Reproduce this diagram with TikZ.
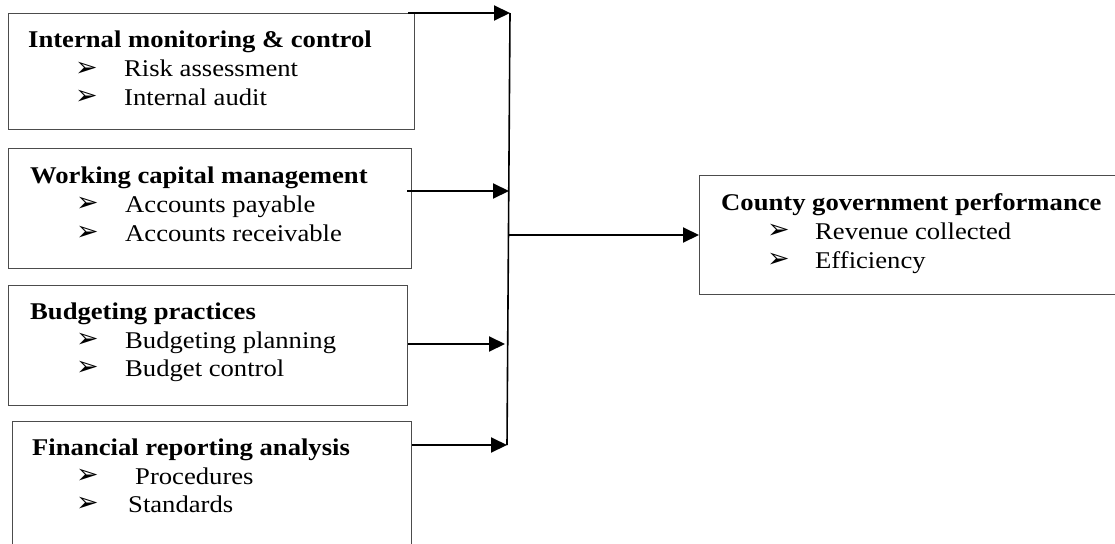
\documentclass[tikz,border=0pt]{standalone}
\usepackage{fontspec}
\setmainfont{Liberation Serif}[FakeStretch=1.11]
\newfontfamily\bulletfont{DejaVu Sans}
\usetikzlibrary{arrows.meta}
\tikzset{
  box/.style={draw=black!70, line width=1pt, anchor=north west, inner sep=0pt, minimum width=#1},
  ttl/.style={anchor=base west, inner sep=0pt, font=\fontsize{24}{29}\selectfont\bfseries},
  itm/.style={anchor=base west, inner sep=0pt, font=\fontsize{24}{29}\selectfont},
  bul/.style={anchor=base west, inner sep=0pt, yshift=1pt, font=\bulletfont\fontsize{27}{27}\selectfont},
  arr/.style={line width=2pt, -{Triangle[length=16pt,width=15pt]}},
  bus/.style={line width=1.6pt}
}
\begin{document}
\begin{tikzpicture}[x=1pt,y=-1pt]
\useasboundingbox (0,0) rectangle (1115,543);
% boxes
\node[box=406, minimum height=116] (b1) at (8,13) {};
\node[box=403, minimum height=120] (b2) at (8,148) {};
\node[box=399, minimum height=120] (b3) at (8,285) {};
\node[box=399, minimum height=145] (b4) at (12,421) {};
\node[box=425, minimum height=119] (rb) at (699,175) {};
% box 1 text
\node[ttl] (t1) at (28,48) {Internal monitoring \& control};
\node[bul] (t1b1) at (75,77) {➢};
\node[itm] (t1i1) at (124,77) {Risk assessment};
\node[bul] (t1b2) at (75,105) {➢};
\node[itm] (t1i2) at (124,105) {Internal audit};
% box 2 text
\node[ttl] (t2) at (30,183) {Working capital management};
\node[bul] (t2b1) at (76,212) {➢};
\node[itm] (t2i1) at (125,212) {Accounts payable};
\node[bul] (t2b2) at (76,241) {➢};
\node[itm] (t2i2) at (125,241) {Accounts receivable};
% box 3 text
\node[ttl] (t3) at (30,319) {Budgeting practices};
\node[bul] (t3b1) at (76,348) {➢};
\node[itm] (t3i1) at (125,348) {Budgeting planning};
\node[bul] (t3b2) at (76,376) {➢};
\node[itm] (t3i2) at (125,376) {Budget control};
% box 4 text
\node[ttl] (t4) at (32,455) {Financial reporting analysis};
\node[bul] (t4b1) at (76,484) {➢};
\node[itm] (t4i1) at (135,484) {Procedures};
\node[bul] (t4b2) at (76,512) {➢};
\node[itm] (t4i2) at (128,512) {Standards};
% right box text
\node[ttl] (t5) at (721,210) {County government performance};
\node[bul] (t5b1) at (767,239) {➢};
\node[itm] (t5i1) at (815,239) {Revenue collected};
\node[bul] (t5b2) at (767,268) {➢};
\node[itm] (t5i2) at (815,268) {Efficiency};
% bus
\coordinate (bt) at (510,13);
\coordinate (bb) at (507,445);
\coordinate (j2) at (509,191);
\coordinate (j3) at (505,344);
\coordinate (jm) at (509,235);
\draw[bus] (bt) -- (bb);
% connectors
\draw[arr] ([xshift=-7pt]b1.north east) -- (bt);
\draw[arr] ([xshift=-5pt]b2.east |- j2) -- (j2);
\draw[arr] (b3.east |- j3) -- (j3);
\draw[arr] (b4.north east |- bb) -- (bb);
\draw[arr] (jm) -- (rb.west |- jm);
\end{tikzpicture}
\end{document}
